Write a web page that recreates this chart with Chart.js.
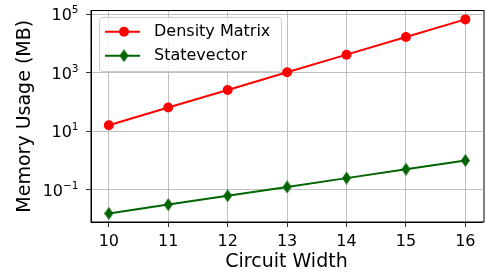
<!DOCTYPE html>
<html>
<head>
<meta charset="utf-8">
<script src="https://cdn.jsdelivr.net/npm/chart.js@4/dist/chart.umd.min.js"></script>
<style>
  html, body { margin: 0; padding: 0; background: #fff; }
</style>
</head>
<body>
<canvas id="chart" width="487" height="276"></canvas>
<script>
const widths = [10, 11, 12, 13, 14, 15, 16];
const densityMatrix = [16, 64, 256, 1024, 4096, 16384, 65536];
const statevector = [0.015625, 0.03125, 0.0625, 0.125, 0.25, 0.5, 1];
const yTicks = [0.1, 10, 1000, 100000];
const yTickExponents = ['−1', '1', '3', '5'];

Chart.defaults.font.family = "'DejaVu Sans', sans-serif";
Chart.defaults.color = '#000';

// matplotlib style thin diamond marker
function thinDiamond(w, h, color) {
  const c = document.createElement('canvas');
  c.width = w;
  c.height = h;
  const g = c.getContext('2d');
  g.fillStyle = color;
  g.beginPath();
  g.moveTo(w / 2, 0);
  g.lineTo(w, h / 2);
  g.lineTo(w / 2, h);
  g.lineTo(0, h / 2);
  g.closePath();
  g.fill();
  return c;
}
const diamond = thinDiamond(9, 13, '#006400');

const frame = {
  id: 'frame',
  beforeDatasetsDraw(chart) {
    const { ctx, chartArea: a } = chart;
    ctx.save();
    ctx.strokeStyle = '#000';
    ctx.lineWidth = 1;
    ctx.strokeRect(a.left, a.top, a.right - a.left + 2, a.bottom - a.top);
    ctx.restore();
  }
};

// "10" with a raised exponent, like matplotlib's log tick labels
const powerLabels = {
  id: 'powerLabels',
  afterDraw(chart) {
    const { ctx } = chart;
    const scale = chart.scales.y;
    const right = scale.right - 12.5;
    ctx.save();
    ctx.fillStyle = '#000';
    ctx.textBaseline = 'alphabetic';
    ctx.textAlign = 'left';
    yTicks.forEach((v, i) => {
      const py = scale.getPixelForValue(v);
      ctx.font = "16px 'DejaVu Sans'";
      const wBase = ctx.measureText('10').width;
      ctx.font = "10.5px 'DejaVu Sans'";
      const wExp = ctx.measureText(yTickExponents[i]).width;
      const x0 = right - wBase - wExp;
      ctx.font = "16px 'DejaVu Sans'";
      ctx.fillText('10', x0, py + 6);
      ctx.font = "10.5px 'DejaVu Sans'";
      ctx.fillText(yTickExponents[i], x0 + wBase, py - 0.7);
    });
    ctx.restore();
  }
};

const legendBox = {
  id: 'legendBox',
  afterDatasetsDraw(chart) {
    const { ctx, chartArea: a } = chart;
    const x = a.left + 8, y = a.top + 6.5, w = 182, h = 54;
    ctx.save();
    ctx.beginPath();
    ctx.roundRect(x + 0.5, y + 0.5, w, h, 3);
    ctx.fillStyle = 'rgba(255,255,255,0.8)';
    ctx.fill();
    ctx.strokeStyle = '#cccccc';
    ctx.lineWidth = 1;
    ctx.stroke();
    chart.data.datasets.forEach((ds, i) => {
      const ry = y + 14.7 + i * 24;
      ctx.strokeStyle = ds.borderColor;
      ctx.lineWidth = ds.borderWidth;
      ctx.beginPath();
      ctx.moveTo(x + 6, ry);
      ctx.lineTo(x + 41, ry);
      ctx.stroke();
      if (ds.pointStyle === 'circle') {
        ctx.fillStyle = ds.borderColor;
        ctx.beginPath();
        ctx.arc(x + 25, ry, ds.pointRadius, 0, Math.PI * 2);
        ctx.fill();
      } else {
        ctx.drawImage(ds.pointStyle, x + 25 - ds.pointStyle.width / 2, ry - ds.pointStyle.height / 2);
      }
      ctx.fillStyle = '#000';
      ctx.font = "16px 'DejaVu Sans'";
      ctx.textBaseline = 'middle';
      ctx.fillText(ds.label, x + 55, ry);
    });
    ctx.restore();
  }
};

new Chart(document.getElementById('chart'), {
  type: 'line',
  data: {
    datasets: [
      {
        label: 'Density Matrix',
        data: widths.map((w, i) => ({ x: w, y: densityMatrix[i] })),
        borderColor: '#ff0000',
        backgroundColor: '#ff0000',
        borderWidth: 2,
        pointStyle: 'circle',
        pointRadius: 5,
        pointBorderWidth: 0,
        fill: false
      },
      {
        label: 'Statevector',
        data: widths.map((w, i) => ({ x: w, y: statevector[i] })),
        borderColor: '#006400',
        backgroundColor: '#006400',
        borderWidth: 2,
        pointStyle: diamond,
        pointRadius: 5,
        pointBorderWidth: 0,
        fill: false
      }
    ]
  },
  options: {
    responsive: false,
    animation: false,
    layout: { padding: { top: 10.5, right: 0, bottom: 0, left: 0 } },
    plugins: { legend: { display: false }, tooltip: { enabled: false } },
    scales: {
      x: {
        type: 'linear',
        min: 9.7,
        max: 16.28,
        afterBuildTicks: scale => { scale.ticks = widths.map(v => ({ value: v })); },
        afterFit: scale => {
          scale.height = 54;
          scale.paddingRight = 0;
          scale.paddingLeft = 0;
        },
        ticks: { font: { size: 16 }, color: '#000', padding: 5, maxRotation: 0 },
        grid: { color: '#b0b0b0', lineWidth: 0.8, tickColor: '#000', tickLength: 5 },
        border: { color: '#000', width: 1 },
        title: { display: true, text: 'Circuit Width', font: { size: 19 }, color: '#000', padding: { top: 0, bottom: 2.6 } }
      },
      y: {
        type: 'logarithmic',
        min: Math.pow(10, -2.10),
        max: Math.pow(10, 5.12),
        afterBuildTicks: scale => { scale.ticks = yTicks.map(v => ({ value: v })); },
        afterFit: scale => {
          scale.width = 91;
          scale.paddingTop = 0;
          scale.paddingBottom = 0;
        },
        ticks: { display: false },
        grid: { color: '#b0b0b0', lineWidth: 0.8, tickColor: '#000', tickLength: 5 },
        border: { color: '#000', width: 1 },
        title: { display: true, text: 'Memory Usage (MB)', font: { size: 19 }, color: '#000', padding: { top: 14, bottom: 0 } }
      }
    }
  },
  plugins: [frame, powerLabels, legendBox]
});
</script>
</body>
</html>
